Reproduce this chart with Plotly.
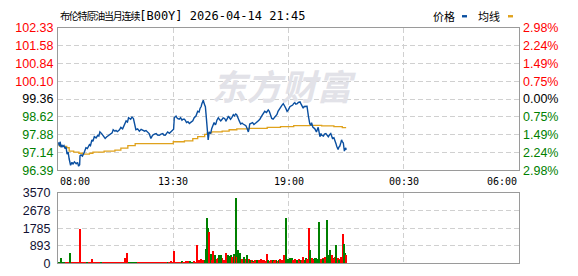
import plotly.graph_objects as go

W, H = 578, 276

# ---------------- data ----------------
title_name = "布伦特原油当月连续"
title_rest = "[B00Y] 2026-04-14 21:45"
prev_close = 99.36

price_ticks = [96.39, 97.14, 97.88, 98.62, 99.36, 100.10, 100.84, 101.58, 102.33]
pct_labels = ["2.98%", "2.24%", "1.49%", "0.75%", "0.00%", "0.75%", "1.49%", "2.24%", "2.98%"]
vol_ticks = [0, 893, 1785, 2678, 3570]
time_tickvals = [0, 330, 660, 990, 1320]          # minutes after 08:00
time_labels = ["08:00", "13:30", "19:00", "00:30", "06:00"]

# price line (minutes after 08:00, price)
price_min = [0,2,4,6,9,11,14,17,20,23,26,29,32,36,40,43,47,52,56,59,62,63,66,70,75,80,84,90,93,97,
             100,104,109,114,117,120,125,128,132,135,139,142,147,152,155,158,163,166,170,176,180,185,
             190,195,199,202,208,212,216,218,221,223,228,233,238,243,248,252,256,261,266,271,276,281,
             285,290,295,300,303,307,311,314,319,324,328,331,333,338,342,347,351,355,358,362,365,368,
             372,376,381,386,390,395,400,404,407,410,412,416,419,422,424,427,430,433,437,440,444,447,
             450,452,455,459,462,466,470,473,477,481,484,488,491,494,498,502,505,509,512,516,519,523,
             527,530,534,538,541,545,547,549,554,557,561,564,568,573,578,583,587,592,597,602,605,609,
             612,616,620,624,627,630,634,637,641,645,647,650,653,656,660,664,668,672,675,678,681,685,
             688,693,695,697,702,705,710,713,717,721,724,726,730,735,740,745,748,750,753,755,760,763,
             767,770,774,777,781,784,786,790,793,796,798,800,802,804,807,810,812,814,817,819,820,822,
             824,825]
price_val = [97.50,97.54,97.40,97.58,97.35,97.45,97.38,97.42,97.30,97.36,97.06,97.15,96.86,96.60,96.72,
             96.65,96.74,96.66,96.72,96.56,96.62,96.99,97.03,96.98,97.13,97.33,97.30,97.46,97.42,97.66,
             97.60,97.79,97.74,97.85,97.82,97.99,97.92,97.85,97.80,97.72,97.78,97.81,97.86,97.92,97.95,
             98.08,98.02,98.05,98.00,98.08,98.18,98.12,98.32,98.45,98.40,98.58,98.52,98.61,98.55,98.38,
             98.25,98.08,98.12,98.02,98.10,98.06,98.02,98.05,97.98,97.92,97.72,97.85,97.90,97.92,97.86,
             97.85,97.90,97.92,97.86,97.85,97.93,97.99,97.93,97.99,98.05,98.10,98.58,98.65,98.55,98.52,
             98.58,98.48,98.52,98.52,98.46,98.38,98.42,98.34,98.40,98.45,98.58,98.65,98.85,98.82,98.98,
             99.05,99.17,99.31,99.15,99.04,98.71,98.05,97.66,97.99,97.92,98.12,98.25,98.38,98.30,98.32,
             98.48,98.58,98.52,98.45,98.52,98.58,98.55,98.45,98.52,98.65,98.58,98.52,98.60,98.71,98.66,
             98.74,98.70,98.52,98.45,98.32,98.36,98.32,98.28,98.25,98.15,97.99,98.12,98.32,98.36,98.38,
             98.30,98.32,98.38,98.45,98.52,98.65,98.72,98.85,98.80,98.91,98.85,98.65,98.55,98.52,98.60,
             98.65,98.72,98.85,98.95,99.04,99.10,99.17,99.08,99.04,98.95,98.85,98.92,99.04,99.08,99.11,
             99.18,99.21,99.15,99.17,99.22,99.24,99.18,99.10,98.98,99.05,99.04,99.06,98.65,98.32,98.28,
             98.38,98.18,98.13,97.99,98.18,97.95,97.79,97.92,97.85,97.82,97.90,97.92,97.85,97.79,97.86,
             97.92,97.80,97.72,97.75,97.66,97.50,97.39,97.30,97.26,97.35,97.40,97.55,97.66,97.58,97.53,
             97.30,97.19,97.28,97.33,97.24]

# average line (step points)
avg_min = [0,5,25,32,45,60,70,90,100,132,163,180,200,221,330,362,386,400,420,427,440,470,490,512,546,
           599,637,675,720,755,790,814,825]
avg_val = [97.46,97.39,97.33,97.19,97.15,97.10,97.06,97.10,97.15,97.19,97.23,97.31,97.42,97.50,97.58,
           97.62,97.71,97.79,97.89,97.95,97.99,98.02,98.08,98.12,98.14,98.18,98.21,98.25,98.26,98.24,
           98.21,98.17,98.17]

# base volume every 5 minutes from 08:00 (r = up, g = down)
base_vol = [70,60,80,70,60,70,80,60,70,80, 70,60,70,80,60,70,60,70,80,60,
            70,60,70,60,80,70,60,70,60,70, 60,70,60,70,60,70,80,60,70,60,
            70,60,70,80,70,60,70,60,80,70, 60,70,60,70,60,70,60,70,80,60,
            70,60,80,70,60,90,80,70,60,70, 80,90,70,80,100,90,80,70,90,80,
            120,150,100,180,140,220,160,130,250,190, 140,210,180,130,260,170,150,200,140,230,
            160,120,190,150,230,140,170,120,200,160, 130,180,110,160,140,190,120,150,170,130,
            150,120,180,140,110,160,130,190,150,120, 170,140,210,160,250,180,200,150,230,170,
            190,160,220,180,150,240,200,170,260,190, 210,180,260,200,240,190,280,220,250,300,
            260,230,300,280,250,220]
base_dir = ("ggrggrrgrr" "rrrgrrrgrr" "rrrrrgrrrr" "rrrrrrrrrr" "rgggggrrrr" "rrrrrrrrrr"
            "rrrgrrrrrr" "rgrrrrggrr" "rrrrgrgrgr" "grrgrgrrgr" "grgrrgrgrg" "rrgrgrrgrr"
            "grrgrgrgrr" "grgrgrrgrg" "rgrgrrgrgr" "grrgrgrrgr" "grrrrr")

# individual volume bars (minute, volume, direction)
spike_min = [9,35,64,98,193,198,333,366,379,397,399,410,415,421,424,427,430,433,437,440,445,450,454,459,
             462,468,473,481,487,490,495,499,505,508,511,513,516,521,526,533,542,546,550,559,571,575,
             582,588,598,602,609,621,636,640,648,654,659,664,677,685,690,701,710,712,720,722,727,736,
             741,748,752,758,765,770,774,779,784,788,796,801,805,809,817,820,823,825]
spike_vol = [277,520,1735,195,277,520,630,100,100,180,908,215,180,120,730,2285,1780,1600,486,180,630,440,
             200,275,440,400,150,535,400,360,400,320,486,350,3300,320,680,520,240,335,440,240,150,80,
             150,180,200,150,486,180,150,150,240,150,400,2285,110,280,180,150,110,320,280,240,1800,680,
             280,280,200,2090,200,240,320,2190,440,680,400,200,920,290,150,320,1500,970,530,435]
spike_dir = ("ggrrrrrrgrrrrggggrgrrgrrggrrgggrgrgrggrggrgrgrrrrgrrrrrgggrgrrgrrgrgggrgrgggrrgrgrrggrrr")

RED, GREEN = "#ff0000", "#008000"
BLUE, GOLD = "#0a4fa0", "#e0a21c"
GRID = "#d0d0d0"
BORDER = "#9a9a9a"

def px2x(p):
    return p / W

def px2y(p):
    return 1 - p / H

base_min = [i * 5 for i in range(len(base_vol))]
base_col = [RED if c == "r" else GREEN for c in base_dir[:len(base_vol)]]
spike_col = [RED if c == "r" else GREEN for c in spike_dir[:len(spike_vol)]]

fig = go.Figure()

# watermark (drawn under the lines)
fig.add_trace(go.Scatter(x=[640], y=[99.70], mode="text", text=["<b><i>东方财富</i></b>"],
                         textfont=dict(family="Noto Sans CJK SC", size=35, color="#e2e2e8"),
                         hoverinfo="skip", showlegend=False, xaxis="x", yaxis="y"))

fig.add_trace(go.Scatter(x=avg_min, y=avg_val, mode="lines", line=dict(color=GOLD, width=1.3, shape="hv"),
                         hoverinfo="skip", showlegend=False, xaxis="x", yaxis="y"))
fig.add_trace(go.Scatter(x=price_min, y=price_val, mode="lines", line=dict(color=BLUE, width=1.4),
                         hoverinfo="skip", showlegend=False, xaxis="x", yaxis="y"))

fig.add_trace(go.Bar(x=base_min, y=base_vol, width=4.8, marker=dict(color=base_col, line_width=0),
                     showlegend=False, xaxis="x2", yaxis="y2"))
fig.add_trace(go.Bar(x=spike_min, y=spike_vol, width=2.9, marker=dict(color=spike_col, line_width=0),
                     showlegend=False, xaxis="x2", yaxis="y2"))

# invisible trace to activate the right axis
fig.add_trace(go.Scatter(x=[0], y=[prev_close], mode="markers", marker=dict(opacity=0),
                         hoverinfo="skip", showlegend=False, xaxis="x", yaxis="y3"))

def colored(vals, labels):
    out = []
    for v, lab in zip(vals, labels):
        c = RED if v > prev_close + 1e-9 else (GREEN if v < prev_close - 1e-9 else "#000000")
        out.append(f"<span style='color:{c}'>{lab}</span>")
    return out

xdom = [px2x(58), px2x(519)]
pdom = [px2y(172), px2y(22)]
vdom = [px2y(270), px2y(196)]

axis_common = dict(showline=True, mirror=True, linecolor=BORDER, linewidth=1, zeroline=False,
                   fixedrange=True)
grid_common = dict(showgrid=True, gridcolor=GRID, griddash="5px,3px", gridwidth=1)

fig.update_layout(
    width=W, height=H, margin=dict(l=0, r=0, t=0, b=0),
    paper_bgcolor="white", plot_bgcolor="white",
    barmode="overlay", bargap=0,
    xaxis=dict(domain=xdom, range=[0, 1320], anchor="y", tickvals=time_tickvals[1:-1],
               showticklabels=False, ticks="", **axis_common, **grid_common),
    yaxis=dict(domain=pdom, range=[price_ticks[0], price_ticks[-1]], anchor="x",
               tickvals=price_ticks, ticktext=colored(price_ticks, [f"{v:.2f}" for v in price_ticks]),
               ticks="", ticklabelstandoff=1,
               tickfont=dict(family="Liberation Sans", size=12.5), **axis_common, **grid_common),
    yaxis3=dict(range=[price_ticks[0], price_ticks[-1]], overlaying="y", side="right", anchor="x",
                tickvals=price_ticks, ticktext=colored(price_ticks, pct_labels),
                ticks="", showgrid=False, zeroline=False, showline=False, ticklabelstandoff=3,
                tickfont=dict(family="Liberation Sans", size=12.5)),
    xaxis2=dict(domain=xdom, range=[0, 1320], anchor="y2", tickvals=time_tickvals[1:-1],
                showticklabels=False, ticks="", **axis_common, **grid_common),
    yaxis2=dict(domain=vdom, range=[0, 3570], anchor="x2", tickvals=vol_ticks,
                ticktext=[str(v) for v in vol_ticks], ticks="", ticklabelstandoff=4,
                tickfont=dict(family="Liberation Sans", size=12.5, color="#111133"),
                **axis_common, **grid_common),
)

annotations = []
# title
annotations.append(dict(
    x=px2x(58), y=px2y(9), xref="paper", yref="paper", xanchor="left", yanchor="middle",
    showarrow=False,
    text=(f"<span style=\"font-family:'Noto Sans CJK SC';font-size:10px;letter-spacing:-1.2px\">"
          f"{title_name}</span>{title_rest}"),
    font=dict(family="DejaVu Sans Mono", size=12, color="#000000")))
# legend
annotations.append(dict(x=px2x(431), y=px2y(10), xref="paper", yref="paper", xanchor="left",
                        yanchor="middle", showarrow=False, text="价格",
                        font=dict(family="Noto Sans CJK SC", size=11, color="#000")))
annotations.append(dict(x=px2x(476), y=px2y(10), xref="paper", yref="paper", xanchor="left",
                        yanchor="middle", showarrow=False, text="均线",
                        font=dict(family="Noto Sans CJK SC", size=11, color="#000")))
# time labels
anchors = ["left", "center", "center", "center", "right"]
for tv, lab, anc in zip(time_tickvals, time_labels, anchors):
    annotations.append(dict(x=tv, y=px2y(184), xref="x", yref="paper", xanchor=anc, yanchor="middle",
                            showarrow=False, text=lab,
                            font=dict(family="DejaVu Sans Mono", size=10, color="#000")))
fig.update_layout(annotations=annotations)

fig.update_layout(shapes=[
    dict(type="rect", xref="paper", yref="paper", x0=px2x(462), x1=px2x(467), y0=px2y(11), y1=px2y(8.5),
         fillcolor=BLUE, line_width=0),
    dict(type="rect", xref="paper", yref="paper", x0=px2x(508), x1=px2x(513), y0=px2y(11), y1=px2y(8.5),
         fillcolor=GOLD, line_width=0),
])

fig.write_html("out.html", config={"displayModeBar": False})
